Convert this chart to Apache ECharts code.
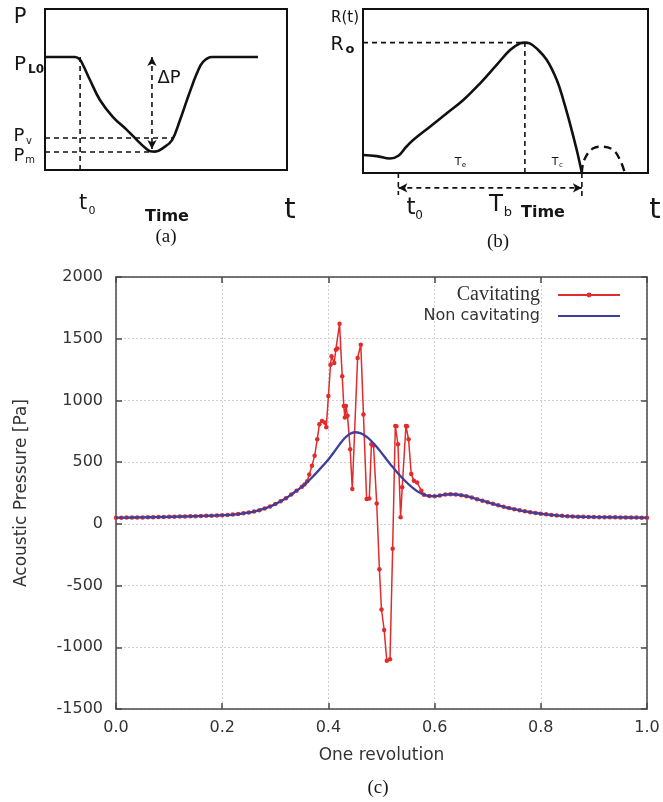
<!DOCTYPE html>
<html><head><meta charset="utf-8">
<script src="https://cdn.jsdelivr.net/npm/echarts@6/dist/echarts.min.js"></script>
<style>html,body{margin:0;padding:0;background:#fff}#c{width:663px;height:802px}</style>
</head><body><div id="c"></div>
<script>
// ---------- Panel (a): liquid pressure vs time (schematic, 0-100 units) ----------
const aTime     = [0, 12.4, 14.3, 15.7, 18.6, 22.7, 28.1, 33.9, 38.0, 41.5, 43.5, 45.5, 48.8, 52.5, 55.8, 59.1, 62.8, 65.3, 69.0, 88.0];
const aPressure = [70.2, 70.2, 68.8, 65.2, 55.9, 43.5, 32.9, 24.8, 18.6, 13.6, 11.6, 11.4, 13.7, 18.6, 31.1, 45.3, 60.2, 67.1, 70.2, 70.2];
const aLevelNames  = ['PL0', 'Pv', 'Pm', 'dPtip'];
const aLevelValues = [70.2, 19.9, 11.2, 13.0];
const aT0 = 14.5, aPvEnd = 52.5, aPmEnd = 43.5, aDeltaX = 44.2;

// ---------- Panel (b): bubble radius vs time (schematic) ----------
const bTime   = [0, 4.8, 9.5, 12.4, 15.0, 17.6, 23.5, 29.4, 35.2, 41.1, 46.9, 51.6, 55.1, 56.8, 58.5, 60.9, 64.5, 68.0, 70.3, 72.6, 75.0, 76.8];
const bRadius = [11.0, 10.3, 8.8, 10.5, 15.6, 20.1, 28.2, 36.4, 44.5, 54.7, 65.9, 75.0, 79.0, 79.5, 79.0, 76.0, 68.9, 56.7, 44.5, 30.3, 14.0, 0];
const bReboundTime   = [76.8, 77.6, 80.8, 83.8, 87.8, 90.2, 91.9];
const bReboundRadius = [0, 7.9, 15.1, 16.0, 14.0, 7.9, 0];
const bT0 = 12.4, bTpeak = 56.8, bRo = 79.5, bTend = 76.8, bArrowY = -9.1, bT0Low = -13.4, bTendLow = -16.5;

// ---------- Panel (c): acoustic pressure over one revolution ----------
const revolution = [0.00,0.01,0.02,0.03,0.04,0.05,0.06,0.07,0.08,0.09,0.10,0.11,0.12,0.13,0.14,0.15,0.16,0.17,0.18,0.19,0.20,0.21,0.22,0.23,0.24,0.25,0.26,0.27,0.28,0.29,0.30,0.31,0.32,0.33,0.34,0.35,0.36,0.37,0.38,0.39,0.40,0.41,0.42,0.43,0.44,0.45,0.46,0.47,0.48,0.49,0.50,0.51,0.52,0.53,0.54,0.55,0.56,0.57,0.58,0.59,0.60,0.61,0.62,0.63,0.64,0.65,0.66,0.67,0.68,0.69,0.70,0.71,0.72,0.73,0.74,0.75,0.76,0.77,0.78,0.79,0.80,0.81,0.82,0.83,0.84,0.85,0.86,0.87,0.88,0.89,0.90,0.91,0.92,0.93,0.94,0.95,0.96,0.97,0.98,0.99,1.00];
const nonCavitating = [50,50,51,51,52,52,53,54,55,56,57,58,59,60,61,62,63,65,66,68,70,72,75,79,85,92,100,111,125,141,160,183,208,237,268,300,338,380,425,472,522,578,638,692,728,742,735,712,675,628,575,520,466,415,368,325,288,257,236,225,224,230,237,240,238,232,224,213,200,188,175,162,150,139,128,119,110,102,95,88,82,77,72,68,65,62,60,58,57,56,55,54,54,53,53,52,52,51,51,50,50];
const cavitatingX = [0.00,0.01,0.02,0.03,0.04,0.05,0.06,0.07,0.08,0.09,0.10,0.11,0.12,0.13,0.14,0.15,0.16,0.17,0.18,0.19,0.20,0.21,0.22,0.23,0.24,0.25,0.26,0.27,0.28,0.29,0.30,0.31,0.32,0.33,0.34,0.35,
  0.355,0.360,0.364,0.369,0.374,0.379,0.383,0.388,0.393,0.396,0.400,0.404,0.406,0.411,0.414,0.417,0.421,0.426,0.429,0.431,0.433,0.436,0.441,0.445,0.455,0.461,0.466,0.472,0.477,0.481,0.485,0.491,0.496,0.500,0.505,0.510,0.516,0.521,0.526,0.528,0.531,0.536,0.539,0.546,0.548,0.551,0.556,0.561,0.567,0.575,
  0.58,0.59,0.60,0.61,0.62,0.63,0.64,0.65,0.66,0.67,0.68,0.69,0.70,0.71,0.72,0.73,0.74,0.75,0.76,0.77,0.78,0.79,0.80,0.81,0.82,0.83,0.84,0.85,0.86,0.87,0.88,0.89,0.90,0.91,0.92,0.93,0.94,0.95,0.96,0.97,0.98,0.99,1.00];
const cavitatingY = [50,50,51,51,52,52,53,54,55,56,57,58,59,60,61,62,63,65,66,68,70,72,75,79,85,92,100,111,125,141,160,183,208,237,268,300,
  318,345,400,470,551,685,806,833,822,782,1035,1290,1357,1304,1411,1420,1621,1196,955,862,955,875,605,282,1344,1452,887,202,205,645,635,165,-368,-694,-860,-1110,-1097,-202,793,790,645,54,296,793,790,685,403,349,336,269,
  236,225,224,230,237,240,238,232,224,213,200,188,175,162,150,139,128,119,110,102,95,88,82,77,72,68,65,62,60,58,57,56,55,54,54,53,53,52,52,51,51,50,50];
const xTickStep = 0.2, yMin = -1500, yMax = 2000, yTickStep = 500;

const SANS = 'DejaVu Sans', SERIF = 'Liberation Serif';
const chart = echarts.init(document.getElementById('c'), null, {renderer: 'canvas'});

const hiddenAxis = (gi, min, max) => ({gridIndex: gi, type: 'value', min, max, show: false});
const pairs = (xs, ys) => xs.map((x, i) => [x, ys[i]]);
const dashed = (xi, pts, extra) => Object.assign({
  type: 'line', xAxisIndex: xi, yAxisIndex: xi, data: pts, showSymbol: false, symbol: 'none', clip: false,
  lineStyle: {color: '#111', width: 1.6, type: [5, 4]}, silent: true, z: 3
}, extra || {});
function txt(x, y, text, size, o) {
  return {type: 'text', x, y, silent: true, z: 10,
    style: Object.assign({text, fontSize: size, fontFamily: SANS, fill: '#151515', align: 'center', verticalAlign: 'middle'}, o || {})};
}

const cAxisCommon = {
  axisLine: {show: true, onZero: false, lineStyle: {color: '#4a4a4a', width: 1.5}},
  axisTick: {show: true, inside: true, length: 6, lineStyle: {color: '#4a4a4a', width: 1.5}}
};

const option = {
  animation: false,
  backgroundColor: '#fff',
  grid: [
    {left: 45, top: 9, width: 242, height: 161, show: true, borderColor: '#111', borderWidth: 2, backgroundColor: 'transparent'},
    {left: 363, top: 9, width: 285, height: 164, show: true, borderColor: '#111', borderWidth: 2, backgroundColor: 'transparent'},
    {left: 116, top: 277, width: 531, height: 432}
  ],
  xAxis: [
    hiddenAxis(0, 0, 100),
    hiddenAxis(1, 0, 100),
    Object.assign({gridIndex: 2, type: 'value', min: 0, max: 1, interval: xTickStep, position: 'bottom',
      name: 'One revolution', nameLocation: 'middle', nameGap: 38,
      nameTextStyle: {fontFamily: SANS, fontSize: 17, color: '#333'},
      axisLabel: {fontFamily: SANS, fontSize: 16, color: '#333', margin: 11, formatter: v => v.toFixed(1)},
      splitLine: {show: true, lineStyle: {color: '#d0d0d0', type: [2, 2], width: 1}}}, cAxisCommon),
    Object.assign({gridIndex: 2, type: 'value', min: 0, max: 1, interval: xTickStep, position: 'top',
      axisLabel: {show: false}, splitLine: {show: false}}, cAxisCommon)
  ],
  yAxis: [
    hiddenAxis(0, 0, 100),
    hiddenAxis(1, 0, 100),
    Object.assign({gridIndex: 2, type: 'value', min: yMin, max: yMax, interval: yTickStep, position: 'left',
      name: 'Acoustic Pressure [Pa]', nameLocation: 'middle', nameGap: 86, nameRotate: 90,
      nameTextStyle: {fontFamily: SANS, fontSize: 17, color: '#333'},
      axisLabel: {fontFamily: SANS, fontSize: 16, color: '#333', margin: 13, formatter: v => String(v)},
      splitLine: {show: true, lineStyle: {color: '#d0d0d0', type: [2, 2], width: 1}}}, cAxisCommon),
    Object.assign({gridIndex: 2, type: 'value', min: yMin, max: yMax, interval: yTickStep, position: 'right',
      axisLabel: {show: false}, splitLine: {show: false}}, cAxisCommon)
  ],
  legend: {
    orient: 'vertical', align: 'right', right: 37, top: 280, itemWidth: 62, itemHeight: 6, itemGap: 3,
    data: [
      {name: 'Cavitating', itemStyle: {opacity: 1},
        textStyle: {fontFamily: SERIF, fontSize: 20, color: '#333', padding: [0, 13, 0, 0]}},
      {name: 'Non cavitating', itemStyle: {opacity: 0},
        textStyle: {fontFamily: SANS, fontSize: 16, color: '#333', padding: [2, 13, 0, 0]}}
    ]
  },
  series: [
    // panel (a)
    {type: 'line', xAxisIndex: 0, yAxisIndex: 0, data: pairs(aTime, aPressure), smooth: 0.4, showSymbol: false, symbol: 'none',
      lineStyle: {color: '#111', width: 2.6}, silent: true, z: 4},
    dashed(0, [[0, aLevelValues[1]], [aPvEnd, aLevelValues[1]]]),
    dashed(0, [[0, aLevelValues[2]], [aPmEnd, aLevelValues[2]]]),
    dashed(0, [[aT0, 0], [aT0, aLevelValues[0]]]),
    dashed(0, [{value: [aDeltaX, aLevelValues[0]], symbolRotate: 0}, {value: [aDeltaX, aLevelValues[3]], symbolRotate: 180}],
      {showSymbol: true, symbol: 'arrow', symbolSize: [7, 9], itemStyle: {color: '#111'}}),
    // panel (b)
    {type: 'line', xAxisIndex: 1, yAxisIndex: 1, data: pairs(bTime, bRadius), smooth: 0.4, showSymbol: false, symbol: 'none',
      lineStyle: {color: '#111', width: 2.6}, silent: true, z: 4},
    dashed(1, pairs(bReboundTime, bReboundRadius), {smooth: 0.4, lineStyle: {color: '#111', width: 2.4, type: [8, 5]}}),
    dashed(1, [[0, bRo], [bTpeak, bRo]]),
    dashed(1, [[bTpeak, 0], [bTpeak, bRo]]),
    dashed(1, [[bT0, 0], [bT0, bT0Low]]),
    dashed(1, [[bTend, 0], [bTend, bTendLow]]),
    dashed(1, [{value: [bT0, bArrowY], symbolRotate: 90}, {value: [bTend, bArrowY], symbolRotate: -90}],
      {showSymbol: true, symbol: 'arrow', symbolSize: [7, 9], itemStyle: {color: '#111'}}),
    // panel (c)
    {name: 'Cavitating', type: 'line', xAxisIndex: 2, yAxisIndex: 2, data: pairs(cavitatingX, cavitatingY),
      symbol: 'circle', symbolSize: 4.5, showSymbol: true, showAllSymbol: true,
      lineStyle: {color: '#e22b2b', width: 1.5}, itemStyle: {color: '#e22b2b'}, z: 5},
    {name: 'Non cavitating', type: 'line', xAxisIndex: 2, yAxisIndex: 2, data: pairs(revolution, nonCavitating),
      smooth: 0.2, showSymbol: false, symbol: 'none',
      lineStyle: {color: '#3e3e9c', width: 2.3}, itemStyle: {color: '#3e3e9c'}, z: 6}
  ],
  graphic: [
    // (a) labels
    txt(20, 18, 'P', 21),
    txt(20, 65, 'P', 20), txt(36, 70, 'L0', 12, {fontWeight: 'bold'}),
    txt(19, 136, 'P', 18), txt(29, 141, 'v', 10),
    txt(19, 156, 'P', 18), txt(30, 160, 'm', 10),
    txt(83, 204, 't', 21), txt(92, 211, '0', 11),
    txt(169, 78, 'ΔP', 18),
    txt(167, 217, 'Time', 16, {fontWeight: 'bold'}),
    txt(290, 210, 't', 29),
    txt(166, 237, '(a)', 19, {fontFamily: SERIF}),
    // (b) labels
    txt(331, 18, 'R(t)', 15, {align: 'left'}),
    txt(337, 45, 'R', 19), txt(350, 50, 'o', 13, {fontWeight: 'bold'}),
    txt(458, 162, 'T', 11), txt(464, 165, 'e', 7),
    txt(555, 162, 'T', 11), txt(561, 165, 'c', 7),
    txt(411, 208, 't', 23), txt(419, 216, '0', 12),
    txt(496, 205, 'T', 23), txt(508, 213, 'b', 13),
    txt(543, 213, 'Time', 16, {fontWeight: 'bold'}),
    txt(655, 210, 't', 29),
    txt(498, 242, '(b)', 19, {fontFamily: SERIF}),
    // (c) caption
    txt(378, 788, '(c)', 19, {fontFamily: SERIF})
  ]
};
chart.setOption(option);
</script></body></html>
